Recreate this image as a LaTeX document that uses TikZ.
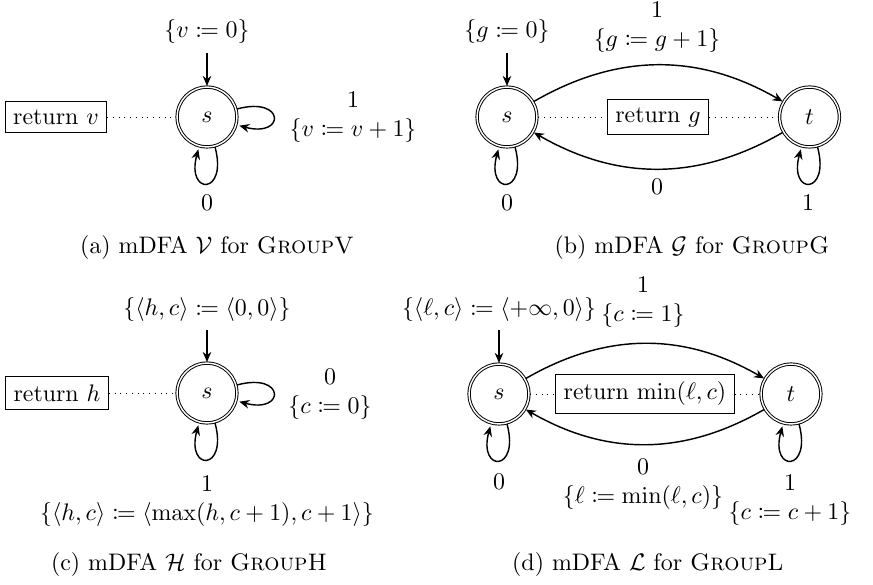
\documentclass[tikz,border=0pt]{standalone}
\usepackage{amsmath,amssymb,mathtools}
\usetikzlibrary{automata,arrows.meta}
\begin{document}
\begin{tikzpicture}[x=0.4184pt,y=0.4184pt,
  >={Stealth[length=4.2pt,width=3.6pt]},
  every state/.style={draw, minimum size=25pt, inner sep=0pt},
  lbl/.style={align=center, inner sep=0pt},
  retbox/.style={draw, rectangle},
  edg/.style={->, semithick},
  conn/.style={dotted}]
\useasboundingbox (0,0) rectangle (873,585);

% ---------- (a)
\node[state, accepting] (sA) at (207,468) {$s$};
\node[retbox] (retA) at (56,468) {return $v$};
\coordinate (iA) at (207,532);
\node[lbl] (iniA) at (207,553) {$\{v \coloneqq 0\}$};
\draw[edg] (iA) -- (sA);
\draw[conn] (retA) -- (sA);
\path (sA) edge[edg, loop right] ();
\path (sA) edge[edg, loop below] ();
\node[lbl] (labA1) at (353,468) {$1$\\$\{v \coloneqq v+1\}$};
\node[lbl] (labA0) at (207,382) {$0$};
\node[lbl] (capA) at (217,337) {(a) mDFA $\mathcal{V}$ for \textsc{GroupV}};

% ---------- (b)
\node[state, accepting] (sB) at (507,468) {$s$};
\node[state, accepting] (tB) at (809.5,468) {$t$};
\node[retbox] (retB) at (658,468) {return $g$};
\coordinate (iB) at (507,532);
\node[lbl] (iniB) at (507,553) {$\{g \coloneqq 0\}$};
\draw[edg] (iB) -- (sB);
\draw[conn] (sB) -- (retB);
\draw[conn] (retB) -- (tB);
\draw[edg] (sB) to[bend left=30] (tB);
\draw[edg] (tB) to[bend left=30] (sB);
\path (sB) edge[edg, loop below] ();
\path (tB) edge[edg, loop below] ();
\node[lbl] (labB1) at (657,557.5) {$1$\\$\{g \coloneqq g+1\}$};
\node[lbl] (labB0) at (657,398) {$0$};
\node[lbl] (labBs) at (507,382) {$0$};
\node[lbl] (labBt) at (808,382) {$1$};
\node[lbl] (capB) at (692,337) {(b) mDFA $\mathcal{G}$ for \textsc{GroupG}};

% ---------- (c)
\node[state, accepting] (sC) at (207,192) {$s$};
\node[retbox] (retC) at (57,192) {return $h$};
\coordinate (iC) at (207,255);
\node[lbl] (iniC) at (207,275) {$\{\langle h,c\rangle \coloneqq \langle 0,0\rangle\}$};
\draw[edg] (iC) -- (sC);
\draw[conn] (retC) -- (sC);
\path (sC) edge[edg, loop right] ();
\path (sC) edge[edg, loop below] ();
\node[lbl] (labC0) at (330,191) {$0$\\$\{c \coloneqq 0\}$};
\node[lbl] (labC1) at (207,84) {$1$\\$\{\langle h,c\rangle \coloneqq \langle \max(h,c+1),c+1\rangle\}$};
\node[lbl] (capC) at (189,20) {(c) mDFA $\mathcal{H}$ for \textsc{GroupH}};

% ---------- (d)
\node[state, accepting] (sD) at (499,191) {$s$};
\node[state, accepting] (tD) at (791,191) {$t$};
\node[retbox] (retD) at (645,191) {return $\min(\ell,c)$};
\coordinate (iD) at (499,255);
\node[lbl] (iniD) at (499,275) {$\{\langle \ell,c\rangle \coloneqq \langle +\infty,0\rangle\}$};
\draw[edg] (iD) -- (sD);
\draw[conn] (sD) -- (retD);
\draw[conn] (retD) -- (tD);
\draw[edg] (sD) to[bend left=30] (tD);
\draw[edg] (tD) to[bend left=30] (sD);
\path (sD) edge[edg, loop below] ();
\path (tD) edge[edg, loop below] ();
\node[lbl] (labD1) at (643,283) {$1$\\$\{c \coloneqq 1\}$};
\node[lbl] (labD0) at (643,101) {$0$\\$\{\ell \coloneqq \min(\ell,c)\}$};
\node[lbl] (labDs) at (499,103) {$0$};
\node[lbl] (labDt) at (790,85) {$1$\\$\{c \coloneqq c+1\}$};
\node[lbl] (capD) at (648,20) {(d) mDFA $\mathcal{L}$ for \textsc{GroupL}};
\end{tikzpicture}
\end{document}
